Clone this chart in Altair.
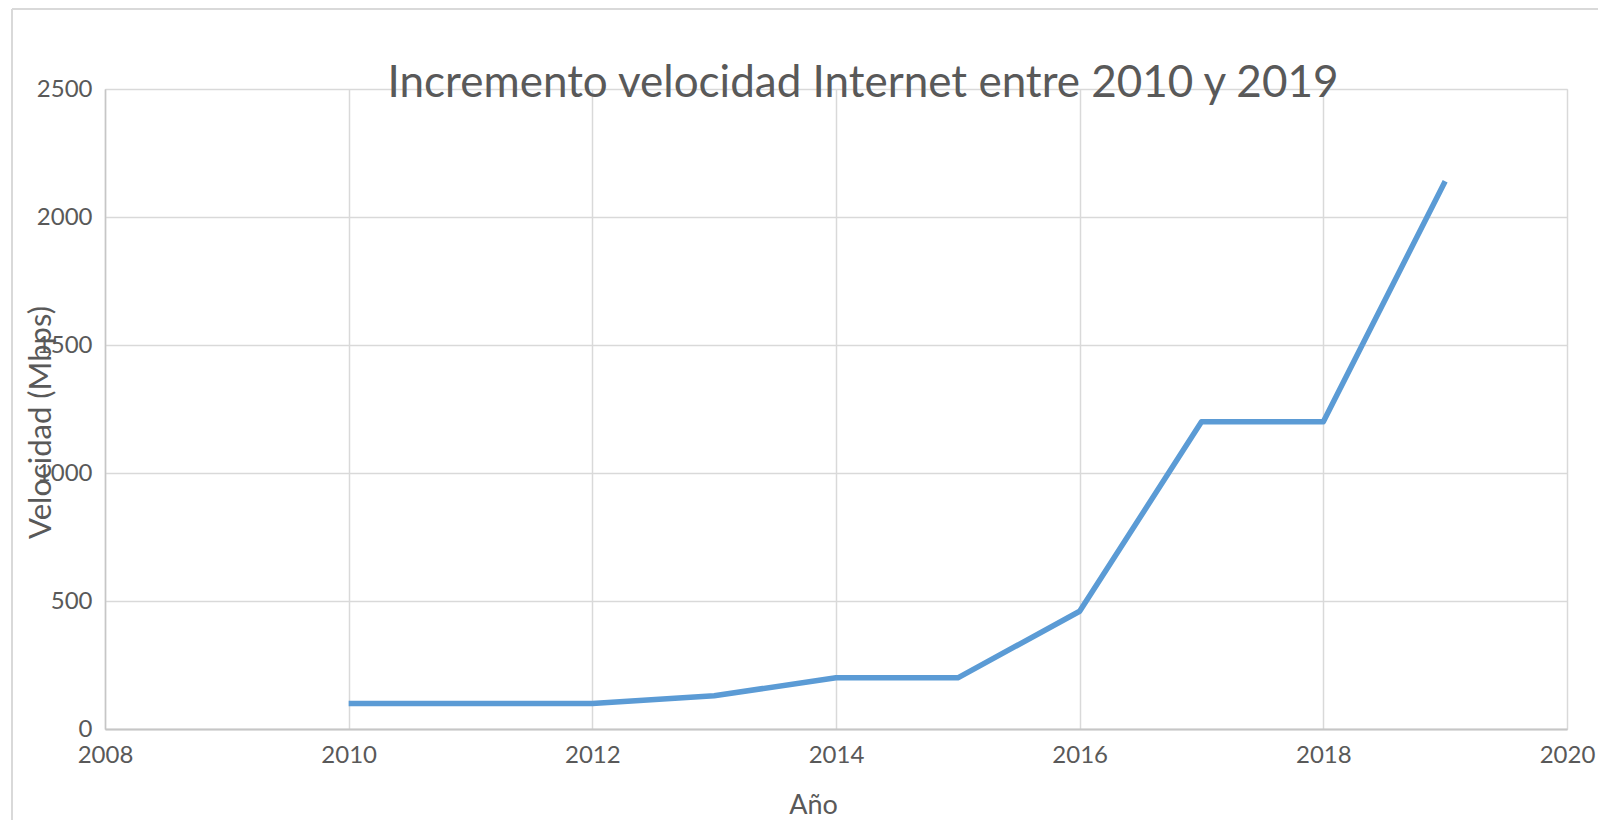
import altair as alt
import pandas as pd

# Data
years = [2010, 2011, 2012, 2013, 2014, 2015, 2016, 2017, 2018, 2019]
speeds = [100, 100, 100, 130, 200, 200, 460, 1200, 1200, 2140]

x_ticks = [2008, 2010, 2012, 2014, 2016, 2018, 2020]
y_ticks = [0, 500, 1000, 1500, 2000, 2500]

title_text = "Incremento velocidad Internet entre 2010 y 2019"
x_title = "Año"
y_title = "Velocidad (Mbps)"

df = pd.DataFrame({"year": years, "speed": speeds})

W, H = 1462, 640
PAD_L, PAD_T, PAD_R, PAD_B = 97, 81, 31, 91
FONT = "Lato"
TXT = "#595959"
GRID = "#d9d9d9"

line = alt.Chart(df).mark_line(
    color="#5B9BD5", strokeWidth=5.5, strokeCap="butt", strokeJoin="round"
).encode(
    x=alt.X(
        "year:Q",
        scale=alt.Scale(domain=[2008, 2020], nice=False, zero=False),
        axis=alt.Axis(
            values=x_ticks, format="d", title=x_title,
            labelFont=FONT, labelFontSize=24, labelColor=TXT,
            labelPadding=14, labelFlush=False, labelOverlap=False,
            ticks=False, grid=True, gridColor=GRID, gridWidth=1.5,
            domainColor="#c6c6c6", domainWidth=2,
            titleFont=FONT, titleFontSize=27, titleColor=TXT, titleFontWeight="normal",
            titleX=708, titleY=84, titleAlign="center", titleBaseline="alphabetic",
        ),
    ),
    y=alt.Y(
        "speed:Q",
        scale=alt.Scale(domain=[0, 2500], nice=False),
        axis=alt.Axis(
            values=y_ticks, format="d", title=y_title,
            labelFont=FONT, labelFontSize=24, labelColor=TXT,
            labelPadding=13, labelFlush=False, labelOverlap=False,
            ticks=False, grid=True, gridColor=GRID, gridWidth=1.5,
            domainColor="#c6c6c6", domainWidth=1.5,
            titleFont=FONT, titleFontSize=31, titleColor=TXT, titleFontWeight="normal",
            titleAngle=270, titleX=-64, titleY=333,
            titleAlign="center", titleBaseline="middle",
        ),
    ),
)

border_left = alt.Chart(df).mark_rule(color=GRID, strokeWidth=2).encode(
    x=alt.value(-93), y=alt.value(-80), y2=alt.value(H + PAD_B)
)
border_top = alt.Chart(df).mark_rule(color=GRID, strokeWidth=2).encode(
    x=alt.value(-93), x2=alt.value(W + PAD_R), y=alt.value(-80)
)

chart = alt.layer(border_left, border_top, line).properties(
    width=W, height=H,
    title=alt.TitleParams(
        text=title_text, font=FONT, fontSize=44, color=TXT, fontWeight="normal",
        anchor="middle", frame="group", dx=27, offset=-133, baseline="alphabetic",
    ),
    autosize=alt.AutoSizeParams(type="none"),
    padding={"left": PAD_L, "top": PAD_T, "right": PAD_R, "bottom": PAD_B},
).configure_view(strokeWidth=0).configure(background="white")

chart.save("out.html", embed_options={"renderer": "svg", "actions": False})
